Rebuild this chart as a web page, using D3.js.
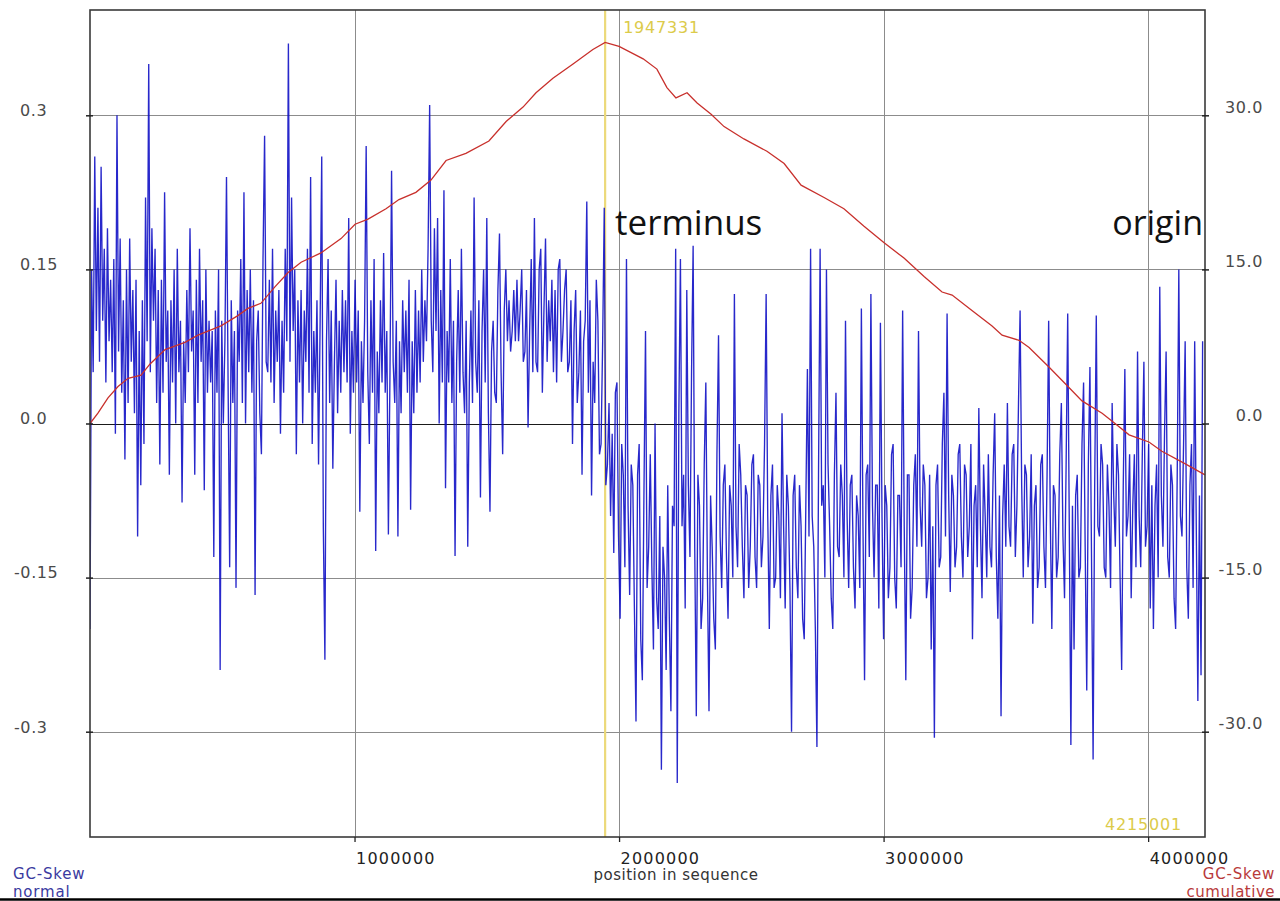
<!DOCTYPE html>
<html>
<head>
<meta charset="utf-8">
<script src="https://cdn.jsdelivr.net/npm/d3@7"></script>
<style>
  html, body { margin: 0; padding: 0; background: #ffffff; }
  svg { display: block; }
</style>
</head>
<body>
<svg id="chart" width="1280" height="901"></svg>
<script>
// ---------------- DATA ----------------
const seqLength = 4215001;
const terminusPos = 1947331;
const windowSize = 6000;

// GC-Skew normal, one value per window
const skewNormal = [
  -0.20, 0.15, 0.05, 0.26, 0.09, 0.21, 0.06, 0.25, 0.10, 0.17, 0.04, 0.19, 0.08, 0.14, 0.05, 0.16, -0.01, 0.30, 0.07, 0.18,
  0.03, 0.12, -0.035, 0.15, 0.02, 0.18, 0.06, 0.13, 0.01, 0.14, -0.11, 0.09, -0.06, 0.12, -0.02, 0.22, 0.08, 0.35, 0.05, 0.19,
  0.10, 0.17, 0.02, 0.13, -0.04, 0.14, 0.03, 0.225, 0.06, 0.11, -0.05, 0.12, 0.04, 0.15, 0.00, 0.17, 0.05, 0.10, -0.077, 0.08,
  0.02, 0.13, 0.05, 0.19, 0.07, 0.11, -0.05, 0.14, 0.02, 0.17, 0.06, 0.12, -0.065, 0.15, 0.03, 0.10, 0.04, 0.09, -0.13, 0.11,
  0.03, 0.15, -0.24, 0.10, 0.00, 0.08, 0.24, 0.04, -0.14, 0.12, 0.02, 0.09, -0.16, 0.11, 0.06, 0.16, 0.02, 0.225, 0.00, 0.13,
  0.05, 0.15, 0.03, 0.12, -0.167, 0.08, 0.11, 0.01, -0.03, 0.16, 0.28, 0.06, 0.05, 0.14, 0.04, 0.17, 0.02, 0.11, 0.06, 0.13,
  -0.01, 0.10, 0.03, 0.17, 0.08, 0.37, 0.06, 0.22, 0.09, 0.15, -0.03, 0.12, 0.04, 0.13, 0.00, 0.11, 0.06, 0.17, 0.03, 0.24,
  -0.02, 0.09, 0.03, 0.12, -0.04, 0.10, 0.26, -0.10, -0.23, 0.08, 0.16, 0.02, 0.11, -0.044, 0.06, 0.14, 0.01, 0.10, 0.03, 0.13,
  0.05, 0.12, 0.04, 0.20, -0.01, 0.09, 0.03, 0.14, 0.04, 0.11, -0.086, 0.08, 0.02, 0.10, 0.27, 0.05, -0.02, 0.12, 0.03, 0.16,
  -0.124, 0.07, 0.01, 0.12, 0.04, 0.166, 0.03, 0.09, -0.108, 0.05, 0.246, 0.06, 0.02, 0.10, -0.11, 0.08, 0.01, 0.12, 0.05, 0.11,
  0.03, 0.14, -0.084, 0.08, 0.01, 0.13, 0.03, 0.11, 0.04, 0.15, 0.06, 0.12, 0.08, 0.17, 0.31, 0.10, 0.05, 0.19, 0.09, 0.20,
  0.00, 0.13, 0.04, 0.227, -0.063, 0.09, 0.04, 0.16, 0.02, 0.10, -0.129, 0.06, 0.13, 0.03, 0.17, 0.05, 0.01, 0.10, -0.12, 0.04,
  0.11, 0.02, 0.22, 0.06, 0.03, 0.12, -0.072, 0.09, 0.15, 0.04, 0.20, 0.01, -0.086, 0.07, 0.10, 0.03, 0.02, 0.13, 0.185, 0.05,
  -0.03, 0.11, 0.15, 0.08, 0.12, 0.07, 0.09, 0.13, 0.08, 0.14, 0.08, 0.11, 0.15, 0.06, 0.07, 0.13, -0.004, 0.09, 0.16, 0.05,
  0.20, 0.06, 0.05, 0.15, 0.17, 0.03, 0.11, 0.18, 0.06, 0.12, 0.08, 0.14, 0.05, 0.13, 0.04, 0.15, 0.16, 0.06, 0.09, 0.13,
  0.15, 0.05, 0.06, 0.12, -0.02, 0.09, 0.13, 0.02, 0.05, 0.11, -0.05, 0.08, 0.10, 0.216, 0.03, 0.12, -0.07, 0.06, 0.02, 0.14,
  0.10, -0.03, -0.02, 0.08, 0.21, -0.06, -0.04, 0.02, -0.09, -0.01, -0.126, 0.03, 0.04, -0.11, -0.19, -0.02, -0.05, -0.14, 0.16, -0.08,
  -0.167, -0.04, -0.06, -0.18, -0.29, -0.05, -0.02, -0.21, -0.25, -0.07, 0.09, -0.16, -0.12, -0.03, -0.14, -0.22, 0.00, -0.17, -0.20, -0.09,
  -0.337, -0.12, -0.15, -0.24, -0.06, -0.19, -0.28, -0.08, -0.10, 0.17, -0.35, 0.01, 0.16, -0.10, -0.05, -0.18, 0.13, -0.06, -0.13, 0.05,
  0.173, -0.12, -0.285, -0.05, -0.08, -0.20, -0.17, -0.04, 0.04, -0.15, -0.28, -0.07, -0.12, -0.19, -0.22, -0.03, 0.086, -0.11, -0.16, -0.06,
  -0.04, -0.13, -0.19, -0.06, -0.08, -0.15, 0.126, -0.10, -0.14, -0.02, -0.05, -0.12, -0.17, -0.06, -0.07, -0.16, -0.12, -0.04, -0.03, -0.13,
  -0.16, -0.05, -0.06, -0.14, -0.11, -0.02, 0.126, -0.09, -0.20, -0.07, -0.04, -0.16, -0.15, -0.06, -0.09, -0.17, 0.01, -0.10, -0.18, -0.05,
  -0.08, -0.16, -0.30, -0.07, -0.05, -0.14, -0.17, -0.06, -0.10, -0.19, -0.21, -0.08, 0.053, -0.11, 0.17, -0.09, -0.12, -0.20, -0.315, -0.05,
  0.17, -0.08, -0.06, -0.15, 0.15, -0.04, -0.10, -0.17, -0.20, -0.05, 0.03, -0.12, -0.13, -0.04, -0.07, -0.15, 0.10, -0.09, -0.16, -0.06,
  -0.05, -0.14, -0.18, -0.07, -0.09, -0.16, 0.112, -0.10, -0.25, -0.05, -0.04, -0.13, 0.126, -0.08, -0.15, -0.06, -0.06, -0.18, 0.098, -0.09,
  -0.21, -0.06, -0.08, -0.17, -0.14, -0.03, -0.02, -0.15, -0.18, -0.07, -0.07, -0.14, 0.11, -0.10, -0.25, -0.05, -0.05, -0.19, -0.16, -0.06,
  -0.03, -0.12, 0.09, -0.08, -0.12, -0.04, -0.06, -0.17, -0.15, -0.05, -0.22, -0.10, -0.306, -0.06, -0.04, -0.14, -0.13, -0.02, 0.03, -0.11,
  0.107, -0.07, -0.164, -0.05, -0.07, -0.14, -0.12, -0.03, -0.02, -0.11, -0.15, -0.04, -0.05, -0.13, -0.10, -0.02, -0.21, -0.08, -0.06, -0.14,
  0.015, -0.10, -0.17, -0.04, -0.09, -0.15, -0.03, -0.12, -0.14, -0.05, 0.01, -0.13, -0.19, -0.07, -0.285, -0.09, -0.04, -0.12, 0.02, -0.10,
  -0.12, -0.03, -0.02, -0.13, -0.08, 0.02, 0.11, -0.06, -0.15, -0.04, -0.05, -0.14, -0.11, -0.03, -0.195, -0.08, -0.06, -0.16, -0.14, -0.04,
  -0.03, -0.12, -0.16, -0.05, 0.10, -0.09, -0.20, -0.06, -0.07, -0.15, -0.13, -0.03, 0.02, -0.11, -0.17, -0.04, 0.107, -0.10, -0.313, -0.08,
  -0.22, -0.07, -0.05, -0.15, -0.14, -0.02, 0.04, -0.12, -0.26, -0.04, 0.055, -0.13, -0.327, -0.06, 0.105, -0.10, -0.11, -0.02, -0.04, -0.14,
  -0.15, -0.04, -0.08, -0.16, 0.02, -0.07, -0.12, -0.02, -0.05, -0.15, -0.24, -0.06, 0.053, -0.11, -0.09, -0.03, -0.17, -0.08, -0.03, -0.14,
  0.07, -0.09, -0.14, -0.03, 0.06, -0.12, -0.10, -0.02, -0.18, -0.06, -0.20, -0.08, -0.04, -0.15, 0.133, -0.07, -0.12, -0.01, 0.07, -0.13,
  -0.15, -0.04, -0.06, -0.17, -0.20, -0.05, 0.15, -0.09, -0.11, -0.02, 0.08, -0.14, -0.19, -0.06, -0.02, -0.16, 0.08, -0.10, -0.27, -0.07,
  -0.245, 0.08
];

// GC-Skew cumulative (positions in bp, values)
const cumPositions = [
  0, 30000, 68000, 106000, 144000, 193000, 227000, 284000, 359000, 408000,
  495000, 559000, 597000, 646000, 699000, 749000, 798000, 873000, 949000, 1002000,
  1051000, 1119000, 1168000, 1232000, 1289000, 1346000, 1421000, 1508000, 1573000, 1637000,
  1686000, 1750000, 1826000, 1901000, 1947331, 2000000, 2091000, 2143000, 2181000, 2215000,
  2257000, 2295000, 2348000, 2397000, 2472000, 2559000, 2624000, 2688000, 2775000, 2850000,
  2926000, 3002000, 3077000, 3153000, 3221000, 3259000, 3334000, 3410000, 3448000, 3512000,
  3550000, 3625000, 3686000, 3750000, 3826000, 3875000, 3928000, 4003000, 4052000, 4139000,
  4215001
];
const cumValues = [
  0.0, 1.0, 2.5, 3.6, 4.4, 4.7, 5.8, 7.2, 7.9, 8.6,
  9.5, 10.5, 11.2, 11.7, 13.3, 14.7, 15.7, 16.6, 18.0, 19.4,
  19.9, 20.9, 21.8, 22.5, 23.7, 25.6, 26.3, 27.5, 29.4, 30.8,
  32.2, 33.6, 35.0, 36.4, 37.1, 36.7, 35.5, 34.5, 32.7, 31.7,
  32.2, 31.2, 30.1, 28.9, 27.7, 26.5, 25.3, 23.2, 22.0, 20.9,
  19.2, 17.6, 16.1, 14.3, 12.8, 12.5, 11.0, 9.5, 8.6, 8.1,
  7.4, 5.5, 3.9, 2.2, 1.0, 0.0, -1.1, -1.8, -2.7, -3.9,
  -5.0
];

// Axis ticks
const leftTicks = [0.3, 0.15, 0.0, -0.15, -0.3];
const leftTickLabels = ["0.3", "0.15", "0.0", "-0.15", "-0.3"];
const rightTicks = [30, 15, 0, -15, -30];
const rightTickLabels = ["30.0", "15.0", "0.0", "-15.0", "-30.0"];
const xTicks = [1000000, 2000000, 3000000, 4000000];
const xTickLabels = ["1000000", "2000000", "3000000", "4000000"];

// ---------------- CHART ----------------
const svg = d3.select("#chart");
const L = 90, R = 1205, T = 10, B = 837;

const x = d3.scaleLinear().domain([0, seqLength]).range([L, R]);
const yL = d3.scaleLinear().domain([-0.4025, 0.4025]).range([B, T]);
const yR = d3.scaleLinear().domain([-40.25, 40.25]).range([B, T]);

svg.append("rect").attr("width", 1280).attr("height", 901).attr("fill", "#ffffff");

svg.append("defs").append("clipPath").attr("id", "plotclip")
  .append("rect").attr("x", L).attr("y", T).attr("width", R - L).attr("height", B - T);

// grid lines
const grid = svg.append("g");
grid.selectAll("line.h").data(leftTicks.filter(d => d !== 0)).join("line")
  .attr("x1", L).attr("x2", R)
  .attr("y1", d => Math.round(yL(d)) + 0.5).attr("y2", d => Math.round(yL(d)) + 0.5)
  .attr("stroke", "#8c8c8c").attr("stroke-width", 1);
grid.selectAll("line.v").data(xTicks).join("line")
  .attr("x1", d => Math.round(x(d)) + 0.5).attr("x2", d => Math.round(x(d)) + 0.5)
  .attr("y1", T).attr("y2", B)
  .attr("stroke", "#8c8c8c").attr("stroke-width", 1);

// terminus (yellow) marker
svg.append("line")
  .attr("x1", x(terminusPos)).attr("x2", x(terminusPos))
  .attr("y1", T).attr("y2", B)
  .attr("stroke", "#ecd97a").attr("stroke-width", 2.2);

// zero line
svg.append("line")
  .attr("x1", L).attr("x2", R)
  .attr("y1", Math.round(yL(0)) + 0.5).attr("y2", Math.round(yL(0)) + 0.5)
  .attr("stroke", "#1a1a1a").attr("stroke-width", 1.2);

// GC skew normal
const normLine = d3.line()
  .x((d, i) => x(Math.min(i * windowSize, seqLength)))
  .y(d => yL(d));
svg.append("path")
  .datum(skewNormal)
  .attr("clip-path", "url(#plotclip)")
  .attr("d", normLine)
  .attr("fill", "none")
  .attr("stroke", "#0a0ac4")
  .attr("stroke-width", 1.35)
  .attr("stroke-opacity", 0.88)
  .attr("stroke-linejoin", "miter");

// GC skew cumulative
const cumLine = d3.line()
  .x(d => x(d[0]))
  .y(d => yR(d[1]));
svg.append("path")
  .datum(cumPositions.map((p, i) => [p, cumValues[i]]))
  .attr("d", cumLine)
  .attr("fill", "none")
  .attr("stroke", "#c8302c")
  .attr("stroke-width", 1.3);

// frame
svg.append("rect")
  .attr("x", L).attr("y", T).attr("width", R - L).attr("height", B - T)
  .attr("fill", "none").attr("stroke", "#3a3a3a").attr("stroke-width", 1.6);

// left axis
const axL = svg.append("g").attr("transform", `translate(${L},0)`)
  .call(d3.axisLeft(yL).tickValues(leftTicks).tickSize(4).tickFormat((d, i) => leftTickLabels[i]));
axL.select(".domain").remove();
axL.selectAll(".tick line").attr("stroke", "#222").attr("stroke-width", 1.5).attr("x2", 3).attr("x1", -4);
axL.selectAll(".tick text")
  .attr("text-anchor", "start")
  .attr("x", (d) => (d < 0 ? 14 : 20) - L)
  .attr("dy", "0.02em")
  .attr("font-family", "DejaVu Sans, sans-serif")
  .attr("font-size", 16)
  .attr("letter-spacing", "0.6px")
  .attr("fill", "#4a4a4a");

// right axis
const axR = svg.append("g").attr("transform", `translate(${R},0)`)
  .call(d3.axisRight(yR).tickValues(rightTicks).tickSize(4).tickFormat((d, i) => rightTickLabels[i]));
axR.select(".domain").remove();
axR.selectAll(".tick line").attr("stroke", "#222").attr("stroke-width", 1.5).attr("x1", -3).attr("x2", 4);
axR.selectAll(".tick text")
  .attr("text-anchor", "end")
  .attr("x", 1263 - R)
  .attr("dy", "-0.2em")
  .attr("font-family", "DejaVu Sans, sans-serif")
  .attr("font-size", 16)
  .attr("letter-spacing", "0.6px")
  .attr("fill", "#4a4a4a");

// bottom axis
const axB = svg.append("g").attr("transform", `translate(0,${B})`)
  .call(d3.axisBottom(x).tickValues(xTicks).tickSize(5).tickFormat((d, i) => xTickLabels[i]));
axB.select(".domain").remove();
axB.selectAll(".tick line").attr("stroke", "#222").attr("stroke-width", 1.3);
axB.selectAll(".tick text")
  .attr("text-anchor", "start")
  .attr("x", 1)
  .attr("y", 27)
  .attr("dy", 0)
  .attr("font-family", "DejaVu Sans, sans-serif")
  .attr("font-size", 16)
  .attr("letter-spacing", "1.2px")
  .attr("fill", "#222");

svg.append("text")
  .attr("x", 676).attr("y", 880)
  .attr("text-anchor", "middle")
  .attr("font-family", "DejaVu Sans, sans-serif")
  .attr("font-size", 15)
  .attr("letter-spacing", "0.5px")
  .attr("fill", "#333")
  .text("position in sequence");

// position labels (yellow)
svg.append("text")
  .attr("x", x(terminusPos) + 18).attr("y", 33)
  .attr("font-family", "DejaVu Sans, sans-serif")
  .attr("font-size", 16).attr("letter-spacing", "0.8px")
  .attr("fill", "#dccb4a")
  .text(String(terminusPos));
svg.append("text")
  .attr("x", R - 100).attr("y", 830)
  .attr("font-family", "DejaVu Sans, sans-serif")
  .attr("font-size", 16).attr("letter-spacing", "0.8px")
  .attr("fill", "#dccb4a")
  .text(String(seqLength));

// annotations
svg.append("text")
  .attr("x", 615).attr("y", 235)
  .attr("font-family", "Open Sans, sans-serif")
  .attr("font-size", 35)
  .attr("fill", "#111")
  .text("terminus");
svg.append("text")
  .attr("x", 1203).attr("y", 235)
  .attr("text-anchor", "end")
  .attr("font-family", "Open Sans, sans-serif")
  .attr("font-size", 34)
  .attr("fill", "#111")
  .text("origin");

// legends
const legendFont = { family: "DejaVu Sans, sans-serif", size: 15 };
svg.append("text")
  .attr("x", 13).attr("y", 879)
  .attr("font-family", legendFont.family)
  .attr("font-size", legendFont.size).attr("letter-spacing", "0.8px").attr("fill", "#3a3aa0")
  .text("GC-Skew");
svg.append("text")
  .attr("x", 13).attr("y", 897)
  .attr("font-family", legendFont.family)
  .attr("font-size", legendFont.size).attr("letter-spacing", "0.8px").attr("fill", "#3a3aa0")
  .text("normal");
svg.append("text")
  .attr("x", 1275).attr("y", 879)
  .attr("text-anchor", "end")
  .attr("font-family", legendFont.family)
  .attr("font-size", legendFont.size).attr("letter-spacing", "0.8px").attr("fill", "#b83a3a")
  .text("GC-Skew");
svg.append("text")
  .attr("x", 1275).attr("y", 897)
  .attr("text-anchor", "end")
  .attr("font-family", legendFont.family)
  .attr("font-size", legendFont.size).attr("letter-spacing", "0.5px").attr("fill", "#b83a3a")
  .text("cumulative");

// bottom border line
svg.append("line")
  .attr("x1", 0).attr("x2", 1280).attr("y1", 899.5).attr("y2", 899.5)
  .attr("stroke", "#000").attr("stroke-width", 2.5);
</script>
</body>
</html>
